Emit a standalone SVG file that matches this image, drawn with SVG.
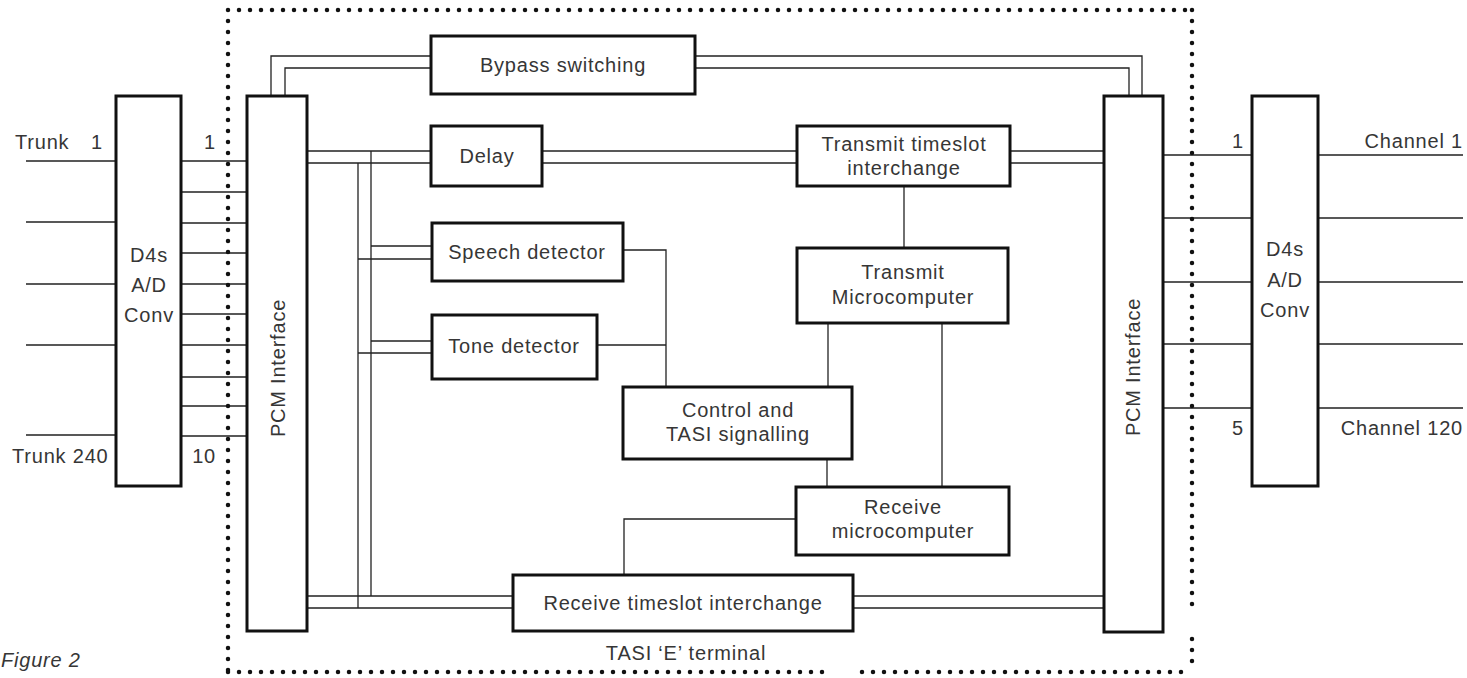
<svg xmlns="http://www.w3.org/2000/svg" width="1467" height="678" viewBox="0 0 1467 678">
  <style>
    .box { fill: #ffffff; stroke: #111111; stroke-width: 3; }
    .ln { fill: none; stroke: #222222; stroke-width: 1.3; }
    .dots { fill: none; stroke: #111111; stroke-width: 4.5; stroke-linecap: round; stroke-dasharray: 0 11; }
    .t { font-family: "Liberation Sans", Arial, sans-serif; font-size: 20px; fill: #363636; letter-spacing: 0.8px; }
    .c { text-anchor: middle; }
    .e { text-anchor: end; }
  </style>

  <rect x="0" y="0" width="1467" height="678" fill="#ffffff"/>

  <!-- signal paths -->
  <g id="connectors">
    <!-- trunk inputs -->
    <path class="ln" d="M26,161H116 M26,222H116 M26,284H116 M26,345H116 M26,435H116"/>
    <!-- converter to PCM interface, 10 links -->
    <path class="ln" d="M181,161H247 M181,192H247 M181,223H247 M181,253H247 M181,284H247 M181,314H247 M181,345H247 M181,377H247 M181,406H247 M181,436H247"/>
    <!-- bypass switching pair -->
    <path class="ln" d="M271,96V56H431 M285,96V68H431"/>
    <path class="ln" d="M695,56H1142V96 M695,68H1129V96"/>
    <!-- transmit bus -->
    <path class="ln" d="M307,151H431 M307,163H431"/>
    <path class="ln" d="M542,151H797 M542,163H797"/>
    <path class="ln" d="M1010,151H1104 M1010,163H1104"/>
    <!-- detector feed bus -->
    <path class="ln" d="M371,151V596 M358,163V608"/>
    <path class="ln" d="M371,246H432 M358,259H432"/>
    <path class="ln" d="M371,341H432 M358,353H432"/>
    <!-- receive bus -->
    <path class="ln" d="M307,596H513 M307,608H513"/>
    <path class="ln" d="M853,596H1104 M853,608H1104"/>
    <!-- detector outputs to control -->
    <path class="ln" d="M623,250H666V387 M597,345H666"/>
    <!-- control links -->
    <path class="ln" d="M904,186V248"/>
    <path class="ln" d="M828,323V387"/>
    <path class="ln" d="M942,323V487"/>
    <path class="ln" d="M827,459V487"/>
    <path class="ln" d="M796,519H624V575"/>
    <!-- channel side -->
    <path class="ln" d="M1163,155H1252 M1163,218H1252 M1163,282H1252 M1163,344H1252 M1163,408H1252"/>
    <path class="ln" d="M1318,155H1463 M1318,218H1463 M1318,282H1463 M1318,344H1463 M1318,408H1463"/>
  </g>

  <!-- terminal boundary -->
  <g id="terminal-boundary">
    <path class="dots" d="M228,10H1192 M228,10V672 M228,672H828 M862,672H1192 M1192,10V614 M1192,639V672"/>
    <text class="t c" x="686" y="660">TASI ‘E’ terminal</text>
  </g>

  <g id="d4s-left">
    <rect class="box" x="116" y="96" width="65" height="390"/>
    <text class="t c" x="149" y="262">D4s</text>
    <text class="t c" x="149" y="292">A/D</text>
    <text class="t c" x="149" y="322">Conv</text>
  </g>

  <g id="pcm-left">
    <rect class="box" x="247" y="96" width="60" height="535"/>
    <text class="t c" transform="translate(285,368) rotate(-90)">PCM Interface</text>
  </g>

  <g id="bypass">
    <rect class="box" x="431" y="36" width="264" height="58"/>
    <text class="t c" x="563" y="72">Bypass switching</text>
  </g>

  <g id="delay">
    <rect class="box" x="431" y="126" width="111" height="60"/>
    <text class="t c" x="487" y="163">Delay</text>
  </g>

  <g id="speech-detector">
    <rect class="box" x="432" y="223" width="191" height="58"/>
    <text class="t c" x="527" y="259">Speech detector</text>
  </g>

  <g id="tone-detector">
    <rect class="box" x="432" y="315" width="165" height="64"/>
    <text class="t c" x="514" y="353">Tone detector</text>
  </g>

  <g id="transmit-tsi">
    <rect class="box" x="797" y="126" width="213" height="60"/>
    <text class="t c" x="904" y="151">Transmit timeslot</text>
    <text class="t c" x="904" y="175">interchange</text>
  </g>

  <g id="transmit-micro">
    <rect class="box" x="797" y="248" width="211" height="75"/>
    <text class="t c" x="903" y="279">Transmit</text>
    <text class="t c" x="903" y="304">Microcomputer</text>
  </g>

  <g id="control">
    <rect class="box" x="623" y="387" width="229" height="72"/>
    <text class="t c" x="738" y="417">Control and</text>
    <text class="t c" x="738" y="441">TASI signalling</text>
  </g>

  <g id="receive-micro">
    <rect class="box" x="796" y="487" width="213" height="68"/>
    <text class="t c" x="903" y="514">Receive</text>
    <text class="t c" x="903" y="538">microcomputer</text>
  </g>

  <g id="receive-tsi">
    <rect class="box" x="513" y="575" width="340" height="56"/>
    <text class="t c" x="683" y="610">Receive timeslot interchange</text>
  </g>

  <g id="pcm-right">
    <rect class="box" x="1104" y="96" width="59" height="536"/>
    <text class="t c" transform="translate(1140,367) rotate(-90)">PCM Interface</text>
  </g>

  <g id="d4s-right">
    <rect class="box" x="1252" y="96" width="66" height="390"/>
    <text class="t c" x="1285" y="256">D4s</text>
    <text class="t c" x="1285" y="287">A/D</text>
    <text class="t c" x="1285" y="317">Conv</text>
  </g>

  <!-- port labels -->
  <g id="labels">
    <text class="t" x="15" y="149">Trunk</text>
    <text class="t e" x="103" y="149">1</text>
    <text class="t e" x="216" y="149">1</text>
    <text class="t" x="12" y="463">Trunk 240</text>
    <text class="t e" x="216" y="463">10</text>
    <text class="t e" x="1244" y="148">1</text>
    <text class="t e" x="1463" y="148">Channel 1</text>
    <text class="t e" x="1244" y="435">5</text>
    <text class="t e" x="1463" y="435">Channel 120</text>
    <text class="t" x="1" y="667" font-style="italic" font-size="18" letter-spacing="0.3">Figure 2</text>
  </g>
</svg>
